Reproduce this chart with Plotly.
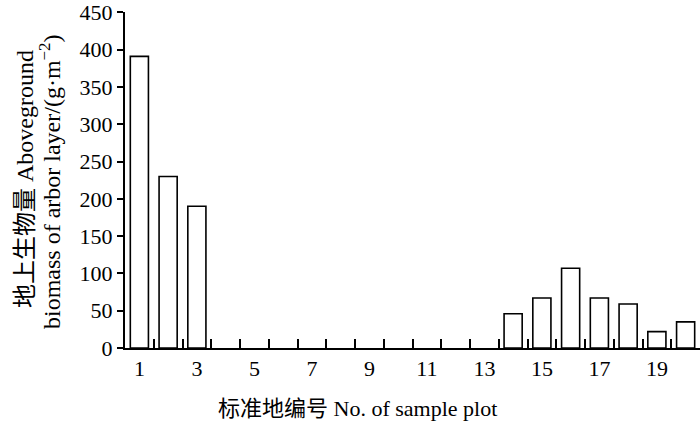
import plotly.graph_objects as go

plots = list(range(1, 21))
biomass = [391, 230, 190, 0, 0, 0, 0, 0, 0, 0, 0, 0, 0, 46, 67, 107, 67, 59, 22, 35]
x_tick_vals = [1, 3, 5, 7, 9, 11, 13, 15, 17, 19]
x_tick_text = [str(v) for v in x_tick_vals]
y_ticks = list(range(0, 451, 50))

FONT = '"Liberation Serif", "Times New Roman", "Noto Sans CJK SC", serif'

W, H = 700, 434
L, R, T, B = 125, 0, 12, 86
PW, PH = W - L - R, H - T - B

fig = go.Figure()
fig.add_trace(go.Bar(
    x=plots, y=biomass,
    marker=dict(color="white",
                line=dict(color="black", width=[1.6 if v > 0 else 0 for v in biomass])),
    showlegend=False,
))

fig.update_layout(
    width=W, height=H,
    margin=dict(l=L, r=R, t=T, b=B, autoexpand=False),
    plot_bgcolor="white", paper_bgcolor="white",
    font=dict(family=FONT, size=22, color="black"),
    bargap=0.37,
    xaxis=dict(
        range=[0.5, 20.5], automargin=False,
        tickmode="array", tickvals=x_tick_vals, ticktext=x_tick_text,
        ticks="inside", ticklen=0,
        minor=dict(ticks="inside", ticklen=9, tickwidth=1.5, tickcolor="black",
                   tickmode="array", tickvals=[p - 0.5 for p in plots] + [plots[-1] + 0.5]),
        showline=True, linecolor="black", linewidth=2,
        showgrid=False, zeroline=False,
        tickfont=dict(family=FONT, size=22, color="black"),
    ),
    yaxis=dict(
        range=[0, 450.5], automargin=False, tickmode="array", tickvals=y_ticks,
        ticks="outside", ticklen=6, tickwidth=1.5, tickcolor="black",
        ticklabeloverflow="allow",
        showline=True, linecolor="black", linewidth=2,
        showgrid=False, zeroline=False,
        tickfont=dict(family=FONT, size=22, color="black"),
    ),
    annotations=[
        dict(text="标准地编号 No. of sample plot", xref="paper", yref="paper",
             x=(357 - L) / PW, y=-(408 - T - PH) / PH, xanchor="center", yanchor="middle",
             showarrow=False, font=dict(family=FONT, size=22)),
        dict(text="地上生物量 Aboveground", xref="paper", yref="paper",
             x=-(L - 25) / PW, y=(H - B - 179) / PH, xanchor="center", yanchor="middle",
             textangle=-90, showarrow=False, font=dict(family=FONT, size=24)),
        dict(text="biomass of arbor layer/(g·m<sup>−2</sup>)", xref="paper", yref="paper",
             x=-(L - 50) / PW, y=(H - B - 182) / PH, xanchor="center", yanchor="middle",
             textangle=-90, showarrow=False, font=dict(family=FONT, size=24)),
    ],
)

fig.write_html("out.html", config={"displayModeBar": False},
               post_script="document.body.style.margin='0';")
